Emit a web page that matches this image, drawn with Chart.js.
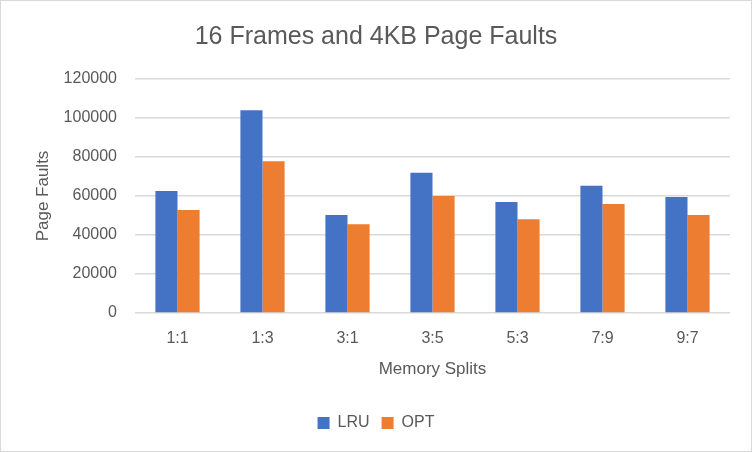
<!DOCTYPE html>
<html>
<head>
<meta charset="utf-8">
<script src="https://cdn.jsdelivr.net/npm/chart.js@4"></script>
<style>
html,body{margin:0;padding:0;background:#fff;}
#wrap{position:absolute;left:0;top:0;width:750px;height:450px;border:1px solid #d9d9d9;}
</style>
</head>
<body>
<div id="wrap"><canvas id="c" width="750" height="450"></canvas></div>
<script>
const categories = ["1:1", "1:3", "3:1", "3:5", "5:3", "7:9", "9:7"];
const lruValues = [62600, 104000, 50200, 71900, 56900, 65200, 59500];
const optValues = [52800, 77800, 45500, 60000, 48100, 55900, 50200];
const yTicks = [0, 20000, 40000, 60000, 80000, 100000, 120000];

const FONT = "'Liberation Sans', Arial, sans-serif";
const TXT = "#595959";

new Chart(document.getElementById('c'), {
  type: 'bar',
  data: {
    labels: categories,
    datasets: [
      { label: 'LRU', data: lruValues, backgroundColor: '#4472C4', categoryPercentage: 0.52, barPercentage: 1.0 },
      { label: 'OPT', data: optValues, backgroundColor: '#ED7D31', categoryPercentage: 0.52, barPercentage: 1.0 }
    ]
  },
  options: {
    responsive: false,
    animation: false,
    devicePixelRatio: 1,
    layout: { padding: { left: 0, right: 0, top: 0, bottom: 10 } },
    plugins: {
      title: {
        display: true,
        text: '16 Frames and 4KB Page Faults',
        color: TXT,
        font: { family: FONT, size: 25, weight: 'normal' },
        padding: { top: 21, bottom: 27 }
      },
      legend: {
        position: 'bottom',
        labels: {
          color: TXT,
          font: { family: FONT, size: 16 },
          boxWidth: 12,
          boxHeight: 12,
          padding: 12
        }
      },
      tooltip: { enabled: false }
    },
    scales: {
      x: {
        grid: { display: false },
        border: { display: false },
        ticks: { color: TXT, font: { family: FONT, size: 16 }, padding: 8 },
        title: {
          display: true,
          text: 'Memory Splits',
          color: TXT,
          font: { family: FONT, size: 17 },
          padding: { top: 0, bottom: 23 }
        },
        afterFit: (s) => { s.height = 90; }
      },
      y: {
        min: 0,
        max: 120000,
        afterBuildTicks: (s) => { s.ticks = yTicks.map(v => ({ value: v })); },
        grid: { color: '#d9d9d9', lineWidth: 1.5, drawTicks: false },
        border: { display: false },
        ticks: {
          color: TXT,
          font: { family: FONT, size: 16 },
          padding: 18,
          callback: (v) => String(v)
        },
        title: {
          display: true,
          text: 'Page Faults',
          color: TXT,
          font: { family: FONT, size: 17 },
          padding: { top: 32, bottom: 0 }
        },
        afterFit: (s) => { s.width = 134; }
      },
      yRight: {
        position: 'right',
        min: 0,
        max: 120000,
        grid: { display: false, drawTicks: false },
        border: { display: false },
        ticks: { display: false },
        afterFit: (s) => { s.width = 21; }
      }
    }
  }
});
</script>
</body>
</html>
